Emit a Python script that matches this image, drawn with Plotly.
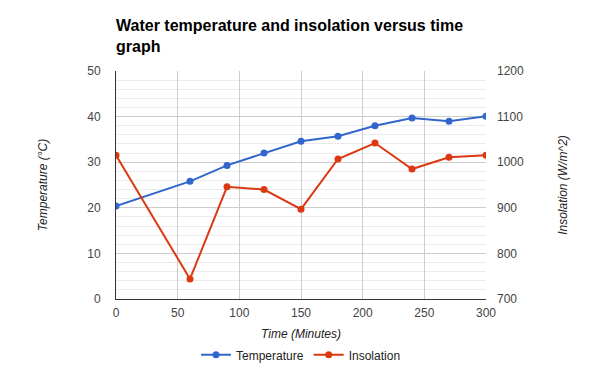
import plotly.graph_objects as go

time_min = [0, 60, 90, 120, 150, 180, 210, 240, 270, 300]
temperature = [20.4, 25.8, 29.3, 32.0, 34.6, 35.7, 38.0, 39.7, 39.0, 40.1]
insolation = [1015, 744, 946, 940, 897, 1007, 1042, 985, 1011, 1015]

title_text = "Water temperature and insolation versus time<br>graph"
x_title = "Time (Minutes)"
y_title = "Temperature (°C)"
y2_title = "Insolation (W/m^2)"

BLUE = "#3366cc"
RED = "#dc3912"
FONT = "Liberation Sans, Arial, sans-serif"

fig = go.Figure()
fig.add_trace(go.Scatter(x=time_min, y=temperature, name="Temperature",
                         mode="lines+markers", line=dict(color=BLUE, width=2),
                         marker=dict(color=BLUE, size=7), yaxis="y"))
fig.add_trace(go.Scatter(x=time_min, y=insolation, name="Insolation",
                         mode="lines+markers", line=dict(color=RED, width=2),
                         marker=dict(color=RED, size=7), yaxis="y2"))

tickfont = dict(family=FONT, size=12, color="#444444")
titlefont = dict(family=FONT, size=12, color="#222222", style="italic")

fig.update_layout(
    width=600, height=371,
    margin=dict(l=108, r=122, t=63, b=80, autoexpand=False),
    paper_bgcolor="white", plot_bgcolor="white",
    font=dict(family=FONT),
    title=dict(text="<b>" + title_text + "</b>", font=dict(family=FONT, size=16, color="#000000"),
               xref="container", x=108/600, xanchor="left",
               yref="container", y=1 - 23/371, yanchor="top"),
    showlegend=True,
    legend=dict(orientation="h", x=0.5, xanchor="center", y=-0.245, yanchor="middle",
                font=dict(family=FONT, size=12, color="#222222")),
    xaxis=dict(range=[0, 300], dtick=50, tick0=0, showgrid=True, gridcolor="#cccccc",
               showline=True, linecolor="#333333", linewidth=1, zeroline=False,
               tickfont=tickfont, ticklabelstandoff=3, automargin=False,
               title=dict(text=x_title, font=titlefont, standoff=10)),
    yaxis=dict(range=[0, 50], dtick=10, tick0=0, showgrid=True, gridcolor="#cccccc",
               minor=dict(dtick=2, showgrid=True, gridcolor="#ebebeb"),
               showline=True, linecolor="#333333", linewidth=1, zeroline=False,
               tickfont=tickfont, ticklabelstandoff=12, automargin=False,
               title=dict(text=y_title, font=titlefont, standoff=37)),
    yaxis2=dict(range=[700, 1200], dtick=100, tick0=700, overlaying="y", side="right",
                showgrid=False, showline=False, zeroline=False, automargin=False,
                tickfont=tickfont, ticklabelstandoff=10,
                title=dict(text=y2_title, font=titlefont, standoff=35)),
)

fig.write_html("out.html")
